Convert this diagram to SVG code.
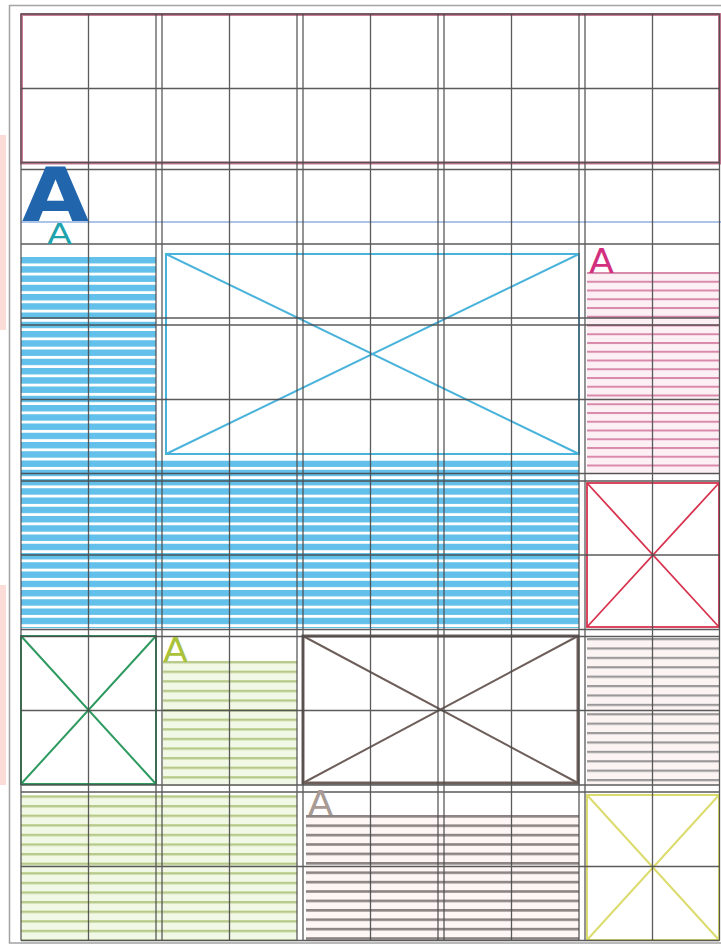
<svg xmlns="http://www.w3.org/2000/svg" width="721" height="946" viewBox="0 0 721 946">
<style>
.grid{stroke:#4a4a4a;stroke-width:1.3;fill:none;opacity:.9}
.xbox{fill:none}
.lbl{font-family:"DejaVu Sans","Liberation Sans",sans-serif}
</style>
<defs>
<pattern id="pBlue" patternUnits="userSpaceOnUse" x="0" y="257" width="20" height="9.25">
<rect x="0" y="0" width="20" height="9.25" fill="#ffffff"/>
<rect x="0" y="0" width="20" height="6.4" fill="#62c0ea"/>
</pattern>
<pattern id="pPink" patternUnits="userSpaceOnUse" x="0" y="272" width="20" height="8.75">
<rect x="0" y="0" width="20" height="8.75" fill="#fdf0f5"/>
<rect x="0" y="0" width="20" height="2" fill="#d98aaa"/>
</pattern>
<pattern id="pGreen" patternUnits="userSpaceOnUse" x="0" y="661" width="20" height="9.6">
<rect x="0" y="0" width="20" height="9.6" fill="#f2f8e6"/>
<rect x="0" y="0" width="20" height="2.4" fill="#b7ca8a"/>
</pattern>
<pattern id="pBrown" patternUnits="userSpaceOnUse" x="0" y="815" width="20" height="9.4">
<rect x="0" y="0" width="20" height="9.4" fill="#fdf6f4"/>
<rect x="0" y="0" width="20" height="2.6" fill="#8c8482"/>
</pattern>
<pattern id="pGray" patternUnits="userSpaceOnUse" x="0" y="638" width="20" height="9.4">
<rect x="0" y="0" width="20" height="9.4" fill="#fbf4f3"/>
<rect x="0" y="0" width="20" height="2.2" fill="#9a9898"/>
</pattern>
</defs>
<rect x="0" y="0" width="721" height="946" fill="#ffffff"/>
<g id="edge-tint">
<rect x="0" y="135" width="6" height="195" fill="#fbdcd6"/>
<rect x="0" y="585" width="6" height="200" fill="#fbdcd6"/>
</g>
<g id="frame">
<rect x="9.5" y="5.5" width="713" height="937.5" fill="none" stroke="#a3a3a3" stroke-width="1.5"/>
</g>
<g id="header-box">
<rect x="21.5" y="14.5" width="698" height="148.5" fill="none" stroke="#cc7c97" stroke-width="3"/>
</g>
<g id="blue-stripes">
<rect x="21" y="257" width="135" height="371" fill="url(#pBlue)"/>
<rect x="156" y="460.5" width="423" height="167.5" fill="url(#pBlue)"/>
</g>
<g id="pink-stripes">
<rect x="587" y="272" width="132" height="202" fill="url(#pPink)"/>
</g>
<g id="green-stripes">
<rect x="163" y="661" width="134" height="125" fill="url(#pGreen)"/>
<rect x="21" y="795" width="276" height="146" fill="url(#pGreen)"/>
</g>
<g id="brown-stripes">
<rect x="306" y="815" width="273" height="126" fill="url(#pBrown)"/>
</g>
<g id="gray-stripes">
<rect x="587" y="638" width="132" height="146" fill="url(#pGray)"/>
</g>
<g id="blue-xbox" class="xbox" stroke="#4ab3db" stroke-width="2">
<rect x="166" y="254" width="413" height="200" fill="none"/>
<path d="M166 254L579 454M579 254L166 454"/>
</g>
<g id="red-xbox" class="xbox" stroke="#d8344f" stroke-width="1.8">
<rect x="587" y="483" width="132" height="144" fill="none"/>
<path d="M587 483L719 627M719 483L587 627"/>
</g>
<g id="green-xbox" class="xbox" stroke="#2e9a60" stroke-width="2">
<rect x="21" y="636" width="135" height="148" fill="none"/>
<path d="M21 636L156 784M156 636L21 784"/>
</g>
<g id="brown-xbox" class="xbox" stroke="#6e5e5a" stroke-width="3">
<rect x="303" y="636" width="275" height="147" fill="none"/>
<path d="M303 636L578 783M578 636L303 783" stroke-width="2"/>
</g>
<g id="yellow-xbox" class="xbox" stroke="#dcdc6e" stroke-width="2">
<rect x="587" y="795" width="132" height="145" fill="none"/>
<path d="M587 795L719 940M719 795L587 940"/>
</g>
<g id="guide-line">
<line x1="21" y1="222" x2="721" y2="222" stroke="#8fb0e0" stroke-width="1.6"/>
</g>
<g id="grid" class="grid">
<path d="M21 14V940.5M88.5 14V940.5M156 14V940.5M162 14V940.5M229.5 14V940.5M297 14V940.5M303 14V940.5M370.5 14V940.5M438 14V940.5M444 14V940.5M511.5 14V940.5M579 14V940.5M585 14V940.5M652.5 14V940.5M719.5 14V940.5"/>
<path d="M21 14H719.5M21 88.5H719.5M21 162.5H719.5M21 169.5H719.5M21 244H719.5M21 318H719.5M21 325H719.5M21 399.5H719.5M21 473.5H719.5M21 481H719.5M21 555H719.5M21 629.5H719.5M21 636.5H719.5M21 710.5H719.5M21 785H719.5M21 792H719.5M21 866.5H719.5M21 940.5H719.5"/>
</g>
<g id="letters" class="lbl">
<text x="22" y="221" font-size="75" font-weight="bold" fill="#2166ac" textLength="67" lengthAdjust="spacingAndGlyphs">A</text>
<text x="47" y="244" font-size="28" fill="#1ea3ad" textLength="25" lengthAdjust="spacingAndGlyphs">A</text>
<text x="589" y="273" font-size="34" fill="#d22f7f" textLength="25" lengthAdjust="spacingAndGlyphs">A</text>
<text x="163" y="662" font-size="33" fill="#a9c23a" textLength="25" lengthAdjust="spacingAndGlyphs">A</text>
<text x="308" y="815" font-size="33" fill="#a89a94" textLength="25" lengthAdjust="spacingAndGlyphs">A</text>
</g>
</svg>
